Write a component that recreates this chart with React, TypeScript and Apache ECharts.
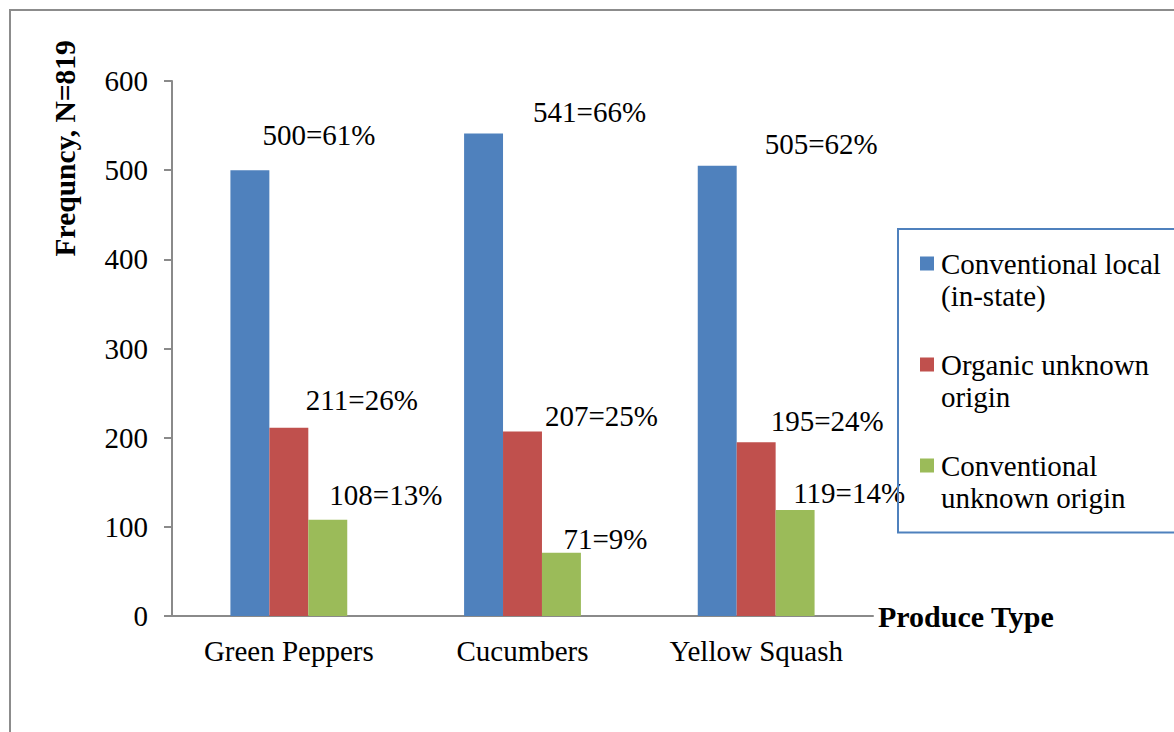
import React, { useEffect, useRef } from "react";
import * as echarts from "echarts";

const categories = ["Green Peppers", "Cucumbers", "Yellow Squash"];
const seriesNames = [
  "Conventional local (in-state)",
  "Organic unknown origin",
  "Conventional unknown origin",
];
const legendLines = [
  "Conventional local\n(in-state)",
  "Organic unknown\norigin",
  "Conventional\nunknown origin",
];
const conventionalLocal = [500, 541, 505];
const organicUnknown = [211, 207, 195];
const conventionalUnknown = [108, 71, 119];
const pctLocal = [61, 66, 62];
const pctOrganic = [26, 25, 24];
const pctUnknown = [13, 9, 14];
const yMin = 0;
const yMax = 600;
const yInterval = 100;

const colors = ["#4F81BD", "#C0504D", "#9BBB59"];
// manual label placement (px), as in the original chart
const labelOffsets = [
  [[69, -20.5], [106, -7.5], [104, -7.5]],
  [[73, -13], [79, -1], [71, -6.5]],
  [[58, -10.5], [44, 1], [54, -2.5]],
];

const FONT = "Liberation Serif, Times New Roman, serif";

export default function App() {
  const ref = useRef<HTMLDivElement>(null);
  useEffect(() => {
    if (!ref.current) return;
    const chart = echarts.init(ref.current, undefined, { renderer: "svg" });
    const values = [conventionalLocal, organicUnknown, conventionalUnknown];
    const pcts = [pctLocal, pctOrganic, pctUnknown];
    const series = values.map((vals, s) => ({
      type: "bar",
      name: seriesNames[s],
      barGap: "0%",
      barCategoryGap: "50%",
      itemStyle: { color: colors[s] },
      label: {
        show: true,
        position: "top",
        distance: 0,
        fontFamily: FONT,
        fontSize: 29,
        color: "#000",
        formatter: (p: any) => `${vals[p.dataIndex]}=${pcts[s][p.dataIndex]}%`,
      },
      data: vals.map((v, i) => ({
        value: v,
        label: { offset: labelOffsets[s][i] },
      })),
    }));
    const nameMap: Record<string, string> = {};
    seriesNames.forEach((n, i) => (nameMap[n] = legendLines[i]));
    chart.setOption({
      animation: false,
      textStyle: { fontFamily: FONT },
      grid: { left: 172, right: 301, top: 81, bottom: 116, containLabel: false },
      legend: {
        orient: "vertical",
        left: 898,
        top: 229,
        padding: [18.5, 20, 19, 22],
        itemGap: 37,
        itemWidth: 16,
        itemHeight: 46,
        icon: "path://M0 0L14 0L14 14L0 14Z M16 45.9L16 46",
        borderColor: "#4F81BD",
        borderWidth: 2,
        textStyle: { fontFamily: FONT, fontSize: 29, lineHeight: 32, color: "#000" },
        formatter: (name: string) => nameMap[name] || name,
        data: seriesNames,
      },
      xAxis: {
        type: "category",
        data: categories,
        name: "Produce Type",
        nameLocation: "end",
        nameGap: 5,
        nameTextStyle: { fontFamily: FONT, fontSize: 30, fontWeight: "bold", color: "#000" },
        axisLine: { lineStyle: { color: "#8a8a8a", width: 2 } },
        axisTick: { show: false },
        axisLabel: { fontFamily: FONT, fontSize: 29, color: "#000", margin: 20 },
      },
      yAxis: {
        type: "value",
        min: yMin,
        max: yMax,
        interval: yInterval,
        splitLine: { show: false },
        axisLine: { show: true, lineStyle: { color: "#8a8a8a", width: 2 } },
        axisTick: { show: true, inside: false, length: 8, lineStyle: { color: "#8a8a8a", width: 2 } },
        axisLabel: { fontFamily: FONT, fontSize: 29, color: "#000", margin: 24 },
      },
      graphic: [
        {
          type: "rect",
          silent: true,
          shape: { x: 10, y: 10, width: 1300, height: 900 },
          style: { fill: "none", stroke: "#8c8c8c", lineWidth: 2 },
        },
        {
          type: "text",
          silent: true,
          x: 64.5,
          y: 148.3,
          rotation: Math.PI / 2,
          style: {
            text: "Frequncy, N=819",
            font: `bold 29.5px ${FONT}`,
            fill: "#000",
            align: "center",
            verticalAlign: "middle",
          },
        },
      ],
      series,
    });
    return () => chart.dispose();
  }, []);
  return (
    <div
      ref={ref}
      style={{ position: "absolute", left: 0, top: 0, width: 1174, height: 732, background: "#fff" }}
    />
  );
}
